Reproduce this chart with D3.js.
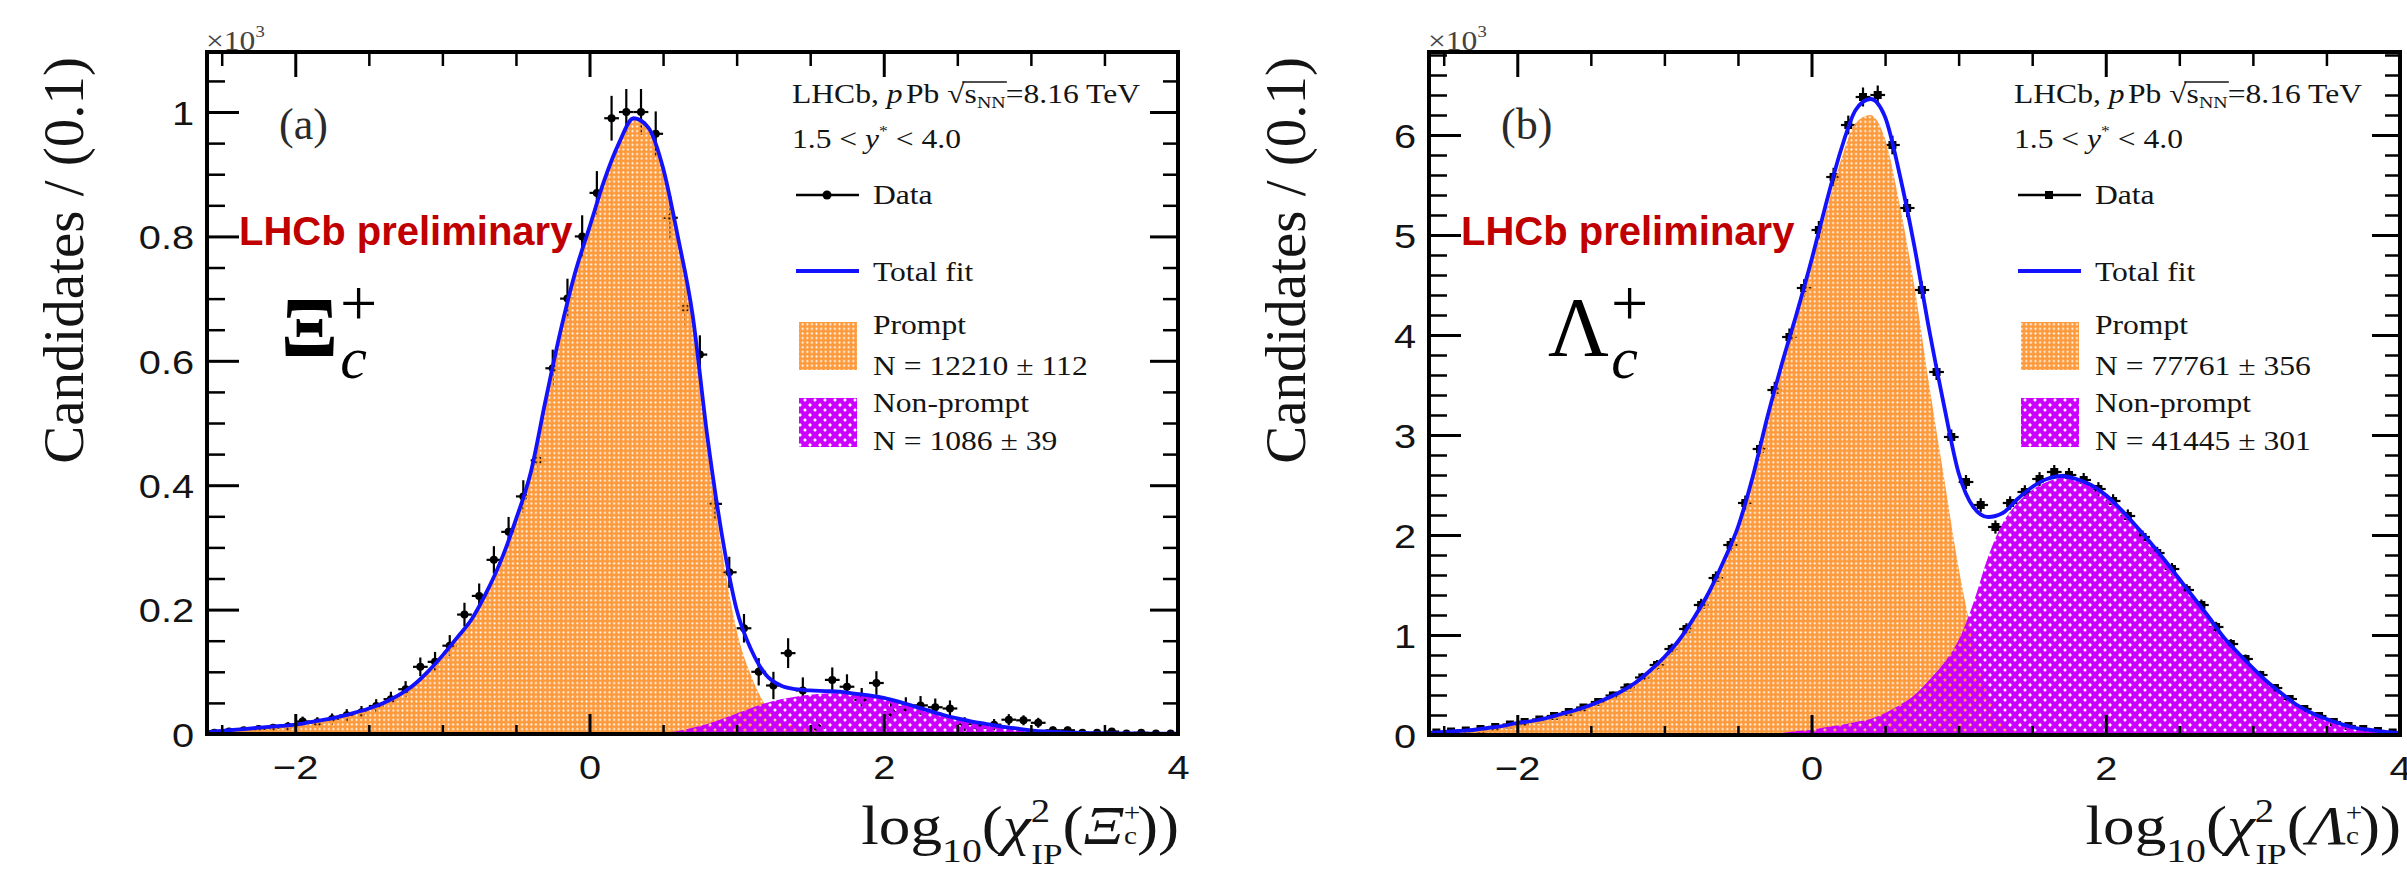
<!DOCTYPE html>
<html><head><meta charset="utf-8">
<script src="https://cdn.jsdelivr.net/npm/d3@7/dist/d3.min.js"></script>
<style>html,body{margin:0;padding:0;background:#fff;} svg{display:block}</style>
</head><body>
<svg id="chart" width="2407" height="874"></svg>
<script>
// ------------------ DATA (values in units of 10^3 candidates / 0.1) ------------------
const curveX = [-2.6,-2.5,-2.4,-2.3,-2.2,-2.1,-2.0,-1.9,-1.8,-1.7,-1.6,-1.5,-1.4,-1.3,-1.2,-1.1,-1.0,-0.9,-0.8,-0.7,-0.6,-0.5,-0.4,-0.3,-0.2,-0.1,0.0,0.1,0.2,0.3,0.4,0.5,0.6,0.7,0.8,0.9,1.0,1.1,1.2,1.3,1.4,1.5,1.6,1.7,1.8,1.9,2.0,2.1,2.2,2.3,2.4,2.5,2.6,2.7,2.8,2.9,3.0,3.1,3.2,3.3,3.4,3.5,3.6,3.7,3.8,3.9,4.0];
const binCenters = [-2.55,-2.45,-2.35,-2.25,-2.15,-2.05,-1.95,-1.85,-1.75,-1.65,-1.55,-1.45,-1.35,-1.25,-1.15,-1.05,-0.95,-0.85,-0.75,-0.65,-0.55,-0.45,-0.35,-0.25,-0.15,-0.05,0.05,0.15,0.25,0.35,0.45,0.55,0.65,0.75,0.85,0.95,1.05,1.15,1.25,1.35,1.45,1.55,1.65,1.75,1.85,1.95,2.05,2.15,2.25,2.35,2.45,2.55,2.65,2.75,2.85,2.95,3.05,3.15,3.25,3.35,3.45,3.55,3.65,3.75,3.85,3.95];

// (a) Xi_c+
const xiTotal = [0.003,0.005,0.007,0.009,0.011,0.013,0.015,0.019,0.023,0.028,0.034,0.041,0.050,0.062,0.078,0.100,0.126,0.155,0.185,0.228,0.280,0.345,0.420,0.535,0.645,0.740,0.815,0.890,0.950,0.990,0.975,0.910,0.800,0.675,0.480,0.320,0.200,0.135,0.095,0.078,0.072,0.070,0.069,0.068,0.065,0.062,0.058,0.052,0.045,0.038,0.031,0.025,0.020,0.016,0.012,0.009,0.006,0.004,0.003,0.002,0.0015,0.001,0.001,0.0008,0.0006,0.0005,0.0004];
const xiPrompt = [0.003,0.005,0.007,0.009,0.011,0.013,0.015,0.019,0.023,0.028,0.034,0.041,0.050,0.062,0.078,0.100,0.126,0.155,0.185,0.228,0.280,0.345,0.420,0.535,0.645,0.740,0.815,0.890,0.950,0.990,0.974,0.908,0.795,0.665,0.464,0.296,0.167,0.093,0.045,0.022,0.012,0.007,0.004,0.002,0.001,0.0005,0,0,0,0,0,0,0,0,0,0,0,0,0,0,0,0,0,0,0,0,0];
const xiNonPrompt = [0,0,0,0,0,0,0,0,0,0,0,0,0,0,0,0,0,0,0,0,0,0,0,0,0,0,0,0,0,0,0.001,0.002,0.005,0.010,0.016,0.024,0.033,0.042,0.050,0.056,0.060,0.063,0.065,0.066,0.064,0.061,0.057,0.052,0.045,0.038,0.031,0.025,0.020,0.016,0.012,0.009,0.006,0.004,0.003,0.002,0.0015,0.001,0.001,0.0008,0.0006,0.0005,0.0004];
const xiData = [0.002,0.004,0.006,0.008,0.010,0.012,0.020,0.019,0.024,0.030,0.035,0.045,0.056,0.072,0.108,0.116,0.142,0.192,0.222,0.280,0.325,0.382,0.440,0.588,0.700,0.800,0.870,0.990,1.000,1.000,0.965,0.830,0.685,0.610,0.370,0.260,0.170,0.100,0.078,0.130,0.070,0.010,0.087,0.076,0.055,0.082,0.035,0.043,0.046,0.043,0.041,0.016,0.010,0.015,0.023,0.022,0.018,0.006,0.006,0.002,0.002,0.004,0.001,0.002,0.001,0.001];
const xiErr = [0.004,0.005,0.005,0.006,0.006,0.007,0.008,0.008,0.009,0.010,0.010,0.011,0.012,0.013,0.015,0.016,0.017,0.019,0.020,0.022,0.024,0.026,0.028,0.030,0.032,0.034,0.035,0.036,0.037,0.037,0.036,0.034,0.032,0.031,0.027,0.025,0.023,0.022,0.022,0.024,0.021,0.018,0.020,0.020,0.019,0.019,0.016,0.016,0.015,0.014,0.013,0.011,0.010,0.009,0.009,0.008,0.008,0.006,0.006,0.004,0.004,0.004,0.003,0.003,0.002,0.002];

// (b) Lambda_c+
const lcTotal = [0.02,0.03,0.04,0.05,0.07,0.09,0.12,0.14,0.17,0.21,0.25,0.30,0.36,0.43,0.52,0.64,0.78,0.95,1.17,1.42,1.73,2.08,2.58,3.18,3.72,4.22,4.75,5.32,5.85,6.25,6.36,6.18,5.60,4.88,4.05,3.30,2.62,2.28,2.18,2.22,2.36,2.48,2.56,2.59,2.56,2.50,2.40,2.26,2.10,1.93,1.75,1.56,1.37,1.18,0.98,0.82,0.67,0.53,0.41,0.30,0.22,0.16,0.11,0.07,0.05,0.03,0.02];
const lcPrompt = [0.02,0.03,0.04,0.05,0.07,0.09,0.12,0.14,0.17,0.21,0.25,0.30,0.36,0.43,0.52,0.64,0.78,0.95,1.17,1.42,1.73,2.08,2.58,3.17,3.70,4.18,4.70,5.24,5.75,6.12,6.20,5.96,5.30,4.48,3.50,2.58,1.67,0.96,0.40,0.10,0.04,0.02,0.01,0.005,0,0,0,0,0,0,0,0,0,0,0,0,0,0,0,0,0,0,0,0,0,0,0];
const lcNonPrompt = [0,0,0,0,0,0,0,0,0,0,0,0,0,0,0,0,0,0,0,0,0,0,0,0.01,0.02,0.04,0.05,0.08,0.10,0.13,0.16,0.22,0.30,0.40,0.55,0.72,0.95,1.32,1.78,2.12,2.32,2.45,2.53,2.57,2.55,2.50,2.40,2.26,2.10,1.93,1.75,1.56,1.37,1.18,0.98,0.82,0.67,0.53,0.41,0.30,0.22,0.16,0.11,0.07,0.05,0.03,0.02];
const lcData = [0.025,0.035,0.045,0.06,0.08,0.105,0.13,0.155,0.19,0.23,0.275,0.33,0.395,0.475,0.575,0.70,0.86,1.06,1.30,1.57,1.90,2.32,2.86,3.45,3.98,4.47,5.05,5.58,6.10,6.38,6.40,5.90,5.27,4.45,3.63,2.98,2.53,2.30,2.08,2.32,2.43,2.56,2.63,2.60,2.55,2.46,2.34,2.19,1.98,1.82,1.66,1.45,1.30,1.08,0.91,0.76,0.60,0.47,0.36,0.26,0.19,0.13,0.09,0.06,0.04,0.025];
const lcErr = [0.012,0.014,0.016,0.018,0.02,0.022,0.024,0.026,0.028,0.03,0.033,0.036,0.039,0.042,0.046,0.05,0.054,0.058,0.062,0.066,0.07,0.074,0.078,0.082,0.085,0.088,0.09,0.092,0.094,0.095,0.095,0.093,0.09,0.086,0.08,0.075,0.07,0.068,0.066,0.067,0.068,0.069,0.07,0.07,0.07,0.069,0.068,0.066,0.064,0.062,0.06,0.058,0.055,0.052,0.049,0.045,0.042,0.038,0.034,0.03,0.026,0.022,0.019,0.016,0.013,0.011];

// ticks
const xMajor = [-2, 0, 2, 4];
const xTickLabels = ["\u22122", "0", "2", "4"];
const xMinor = [-2.5,-1.5,-1,-0.5,0.5,1,1.5,2.5,3,3.5];
const xiYMajor = [0, 0.2, 0.4, 0.6, 0.8, 1];
const xiYLabels = ["0", "0.2", "0.4", "0.6", "0.8", "1"];
const xiYMinor = [0.05,0.1,0.15,0.25,0.3,0.35,0.45,0.5,0.55,0.65,0.7,0.75,0.85,0.9,0.95,1.05];
const lcYMajor = [0, 1, 2, 3, 4, 5, 6];
const lcYLabels = ["0", "1", "2", "3", "4", "5", "6"];
const lcYMinor = [0.2,0.4,0.6,0.8,1.2,1.4,1.6,1.8,2.2,2.4,2.6,2.8,3.2,3.4,3.6,3.8,4.2,4.4,4.6,4.8,5.2,5.4,5.6,5.8,6.2,6.4,6.6,6.8];

// legend / text
const xiYields = ["N = 12210 \u00b1 112", "N = 1086 \u00b1 39"];
const lcYields = ["N = 77761 \u00b1 356", "N = 41445 \u00b1 301"];

// ------------------ DRAWING ------------------
const SERIF = "'Liberation Serif','Times New Roman',Times,serif";
const SANS = "'Liberation Sans',Arial,Helvetica,sans-serif";
const STRETCH = "scale(1.17,1)";
const ORANGE = "#fd9a3c", MAGENTA = "#cc00ff", BLUE = "#1212ff", INK = "#141414";

const svg = d3.select("#chart");
svg.append("rect").attr("width", 2407).attr("height", 874).attr("fill", "#fff");
const defs = svg.append("defs");
const pO = defs.append("pattern").attr("id", "fillPrompt").attr("patternUnits", "userSpaceOnUse")
  .attr("width", 4.6).attr("height", 4.6);
pO.append("path").attr("fill", ORANGE).attr("fill-rule", "evenodd")
  .attr("d", "M0,0H4.6V4.6H0Z M1.25,2.3a1.05,1.05 0 1,0 2.1,0a1.05,1.05 0 1,0 -2.1,0Z");
const pM = defs.append("pattern").attr("id", "fillNonPrompt").attr("patternUnits", "userSpaceOnUse")
  .attr("width", 10).attr("height", 10);
pM.append("path").attr("stroke", MAGENTA).attr("stroke-width", 4.4).attr("fill", "none")
  .attr("d", "M-2,-2L12,12M12,-2L-2,12");

const panels = [
  { key: "a", left: 207, right: 1178, top: 52, bottom: 734, yMax: 1.0965,
    yMajor: xiYMajor, yLabels: xiYLabels, yMinor: xiYMinor,
    total: xiTotal, prompt: xiPrompt, nonPrompt: xiNonPrompt, data: xiData, err: xiErr,
    tag: "(a)", baryon: "\u039e", baryonBold: true, yields: xiYields, square: false },
  { key: "b", left: 1429, right: 2400, top: 52, bottom: 735, yMax: 6.83,
    yMajor: lcYMajor, yLabels: lcYLabels, yMinor: lcYMinor,
    total: lcTotal, prompt: lcPrompt, nonPrompt: lcNonPrompt, data: lcData, err: lcErr,
    tag: "(b)", baryon: "\u039b", baryonBold: false, yields: lcYields, square: true }
];

function styleAxis(sel, w) {
  sel.select(".domain").remove();
  sel.selectAll("line").attr("stroke", "#000").attr("stroke-width", w);
}

panels.forEach(p => {
  const x = d3.scaleLinear().domain([-2.6, 4]).range([p.left, p.right]);
  const y = d3.scaleLinear().domain([0, p.yMax]).range([p.bottom, p.top]);
  const clipId = "clip" + p.key;
  defs.append("clipPath").attr("id", clipId).append("rect")
    .attr("x", p.left).attr("y", p.top).attr("width", p.right - p.left).attr("height", p.bottom - p.top);
  const g = svg.append("g").attr("clip-path", `url(#${clipId})`);

  // data points (drawn first; fills overlay them as in the original)
  const pts = d3.zip(binCenters, p.data, p.err);
  const dg = g.append("g").attr("stroke", "#000").attr("stroke-width", 2.2);
  dg.selectAll("line.ev").data(pts).join("line").attr("class", "ev")
    .attr("x1", d => x(d[0])).attr("x2", d => x(d[0]))
    .attr("y1", d => y(Math.max(0, d[1] - d[2]))).attr("y2", d => y(d[1] + d[2]));
  dg.selectAll("line.eh").data(pts).join("line").attr("class", "eh")
    .attr("x1", d => x(d[0] - 0.05)).attr("x2", d => x(d[0] + 0.05))
    .attr("y1", d => y(d[1])).attr("y2", d => y(d[1]));
  if (p.square) {
    dg.selectAll("rect.mk").data(pts).join("rect").attr("class", "mk").attr("stroke", "none").attr("fill", "#000")
      .attr("x", d => x(d[0]) - 4).attr("y", d => y(d[1]) - 4).attr("width", 8).attr("height", 8);
  } else {
    dg.selectAll("circle.mk").data(pts).join("circle").attr("class", "mk").attr("stroke", "none").attr("fill", "#000")
      .attr("cx", d => x(d[0])).attr("cy", d => y(d[1])).attr("r", 4);
  }

  const area = d3.area().curve(d3.curveMonotoneX).x(d => x(d[0])).y0(y(0)).y1(d => y(d[1]));
  g.append("path").datum(d3.zip(curveX, p.prompt)).attr("d", area).attr("fill", "url(#fillPrompt)");
  g.append("path").datum(d3.zip(curveX, p.nonPrompt)).attr("d", area).attr("fill", "url(#fillNonPrompt)");
  const line = d3.line().curve(d3.curveMonotoneX).x(d => x(d[0])).y(d => y(d[1]));
  g.append("path").datum(d3.zip(curveX, p.total)).attr("d", line)
    .attr("fill", "none").attr("stroke", BLUE).attr("stroke-width", 3.8);

  // axes
  const ax = svg.append("g").attr("font-family", SERIF);
  ax.append("g").attr("transform", `translate(0,${p.bottom})`)
    .call(d3.axisBottom(x).tickValues(xMajor).tickFormat((d, i) => xTickLabels[i]).tickSize(-20).tickSizeOuter(0).tickPadding(21))
    .call(s => styleAxis(s, 3))
    .call(s => s.selectAll("text").attr("font-size", 34).attr("fill", INK).attr("transform", STRETCH));
  ax.append("g").attr("transform", `translate(0,${p.bottom})`)
    .call(d3.axisBottom(x).tickValues(xMinor).tickFormat(() => "").tickSize(-9).tickSizeOuter(0))
    .call(s => styleAxis(s, 2.5));
  ax.append("g").attr("transform", `translate(0,${p.top})`)
    .call(d3.axisTop(x).tickValues(xMajor).tickFormat(() => "").tickSize(-25).tickSizeOuter(0))
    .call(s => styleAxis(s, 3));
  ax.append("g").attr("transform", `translate(0,${p.top})`)
    .call(d3.axisTop(x).tickValues(xMinor).tickFormat(() => "").tickSize(-14).tickSizeOuter(0))
    .call(s => styleAxis(s, 2.5));
  ax.append("g").attr("transform", `translate(${p.left},0)`)
    .call(d3.axisLeft(y).tickValues(p.yMajor).tickFormat((d, i) => p.yLabels[i]).tickSize(-32).tickSizeOuter(0).tickPadding(11))
    .call(s => styleAxis(s, 3))
    .call(s => s.selectAll("text").attr("font-size", 34).attr("fill", INK).attr("dy", "0.36em").attr("transform", STRETCH));
  ax.append("g").attr("transform", `translate(${p.left},0)`)
    .call(d3.axisLeft(y).tickValues(p.yMinor).tickFormat(() => "").tickSize(-18).tickSizeOuter(0))
    .call(s => styleAxis(s, 2.5));
  ax.append("g").attr("transform", `translate(${p.right},0)`)
    .call(d3.axisRight(y).tickValues(p.yMajor).tickFormat(() => "").tickSize(-28).tickSizeOuter(0))
    .call(s => styleAxis(s, 3));
  ax.append("g").attr("transform", `translate(${p.right},0)`)
    .call(d3.axisRight(y).tickValues(p.yMinor).tickFormat(() => "").tickSize(-15).tickSizeOuter(0))
    .call(s => styleAxis(s, 2.5));
  svg.append("rect").attr("x", p.left).attr("y", p.top).attr("width", p.right - p.left).attr("height", p.bottom - p.top)
    .attr("fill", "none").attr("stroke", "#000").attr("stroke-width", 4);

  // x10^3
  const mult = svg.append("text").attr("font-family", SERIF).attr("font-size", 27).attr("fill", "#444")
    .attr("transform", `translate(${p.left - 1},${p.top - 2}) ${STRETCH}`);
  mult.append("tspan").text("\u00d710");
  mult.append("tspan").attr("font-size", 16).attr("dy", -13).text("3");

  // y title
  svg.append("text").attr("font-family", SERIF).attr("font-size", 57).attr("fill", INK)
    .attr("text-anchor", "end").attr("transform", `translate(${p.left - 124},${p.top + 5}) rotate(-90)`)
    .text("Candidates / (0.1)");

  // x title
  const xt = svg.append("text").attr("font-family", SERIF).attr("font-size", 54).attr("fill", INK)
    .attr("text-anchor", "end").attr("transform", `translate(${p.right + 1},844) ${STRETCH}`);
  xt.append("tspan").text("log");
  xt.append("tspan").attr("font-size", 34).attr("dy", 18).text("10");
  xt.append("tspan").attr("dy", -18).text("(");
  xt.append("tspan").attr("font-style", "italic").text("\u03c7");
  xt.append("tspan").attr("font-size", 33).attr("dy", -22).text("2");
  xt.append("tspan").attr("font-size", 30).attr("dx", -16).attr("dy", 42).text("IP");
  xt.append("tspan").attr("dy", -20).text("(");
  xt.append("tspan").attr("font-style", "italic").text(p.baryon);
  xt.append("tspan").attr("font-size", 25).attr("dy", -23).text("+");
  xt.append("tspan").attr("font-size", 25).attr("dx", -14).attr("dy", 23).text("c");
  xt.append("tspan").text("))");

  // (a)/(b)
  svg.append("text").attr("font-family", SERIF).attr("font-size", 44).attr("fill", "#2a2a2a")
    .attr("x", p.left + 72).attr("y", 139).text(p.tag);

  // LHCb preliminary
  svg.append("text").attr("font-family", SANS).attr("font-weight", "bold").attr("font-size", 40).attr("fill", "#c00000")
    .attr("x", p.left + 32).attr("y", 245).text("LHCb preliminary");

  // particle label (single text element with super/subscripts)
  const bx = p.key === "a" ? p.left + 74 : p.left + 119;
  const pl = svg.append("text").attr("font-family", SERIF).attr("fill", "#000").attr("x", bx).attr("y", 356);
  pl.append("tspan").attr("font-size", 84).attr("font-weight", p.baryonBold ? "bold" : "normal").text(p.baryon);
  pl.append("tspan").attr("font-size", 66).attr("dx", 2).attr("dy", -31).text("+");
  pl.append("tspan").attr("font-size", 60).attr("font-style", "italic").attr("dx", -37).attr("dy", 53).text("c");

  // legend
  const R = p.right;
  const lg = svg.append("g").attr("font-family", SERIF).attr("font-size", 27).attr("fill", INK);
  const h1 = lg.append("text").attr("transform", `translate(${R - 386},103) ${STRETCH}`);
  h1.append("tspan").text("LHCb, ");
  h1.append("tspan").attr("font-style", "italic").text("p");
  h1.append("tspan").attr("dx", 3).text("Pb ");
  h1.append("tspan").text("\u221a");
  h1.append("tspan").text("s");
  h1.append("tspan").attr("font-size", 17).attr("dy", 5).text("NN");
  h1.append("tspan").attr("dy", -5).text("=8.16 TeV");
  const n1 = h1.node();
  const sx = n1.getStartPositionOfChar(11).x, ex = n1.getEndPositionOfChar(13).x;
  lg.append("line").attr("transform", `translate(${R - 386},103) ${STRETCH}`)
    .attr("x1", sx - 2).attr("x2", ex + 1).attr("y1", -21).attr("y2", -21).attr("stroke", INK).attr("stroke-width", 1.6);
  const h2 = lg.append("text").attr("transform", `translate(${R - 386},148) ${STRETCH}`);
  h2.append("tspan").text("1.5 < ");
  h2.append("tspan").attr("font-style", "italic").text("y");
  h2.append("tspan").attr("font-size", 15).attr("dy", -12).text("*");
  h2.append("tspan").attr("dy", 12).text(" < 4.0");

  lg.append("line").attr("x1", R - 382).attr("x2", R - 319).attr("y1", 195).attr("y2", 195)
    .attr("stroke", "#000").attr("stroke-width", 2.5);
  if (p.square) lg.append("rect").attr("x", R - 355).attr("y", 191).attr("width", 8).attr("height", 8).attr("fill", "#000");
  else lg.append("circle").attr("cx", R - 351).attr("cy", 195).attr("r", 4.5).attr("fill", "#000");
  lg.append("text").attr("transform", `translate(${R - 305},204) ${STRETCH}`).text("Data");

  lg.append("line").attr("x1", R - 382).attr("x2", R - 319).attr("y1", 271).attr("y2", 271)
    .attr("stroke", BLUE).attr("stroke-width", 4);
  lg.append("text").attr("transform", `translate(${R - 305},281) ${STRETCH}`).text("Total fit");

  lg.append("rect").attr("x", R - 379).attr("y", 322).attr("width", 58).attr("height", 48).attr("fill", "url(#fillPrompt)");
  lg.append("text").attr("transform", `translate(${R - 305},334) ${STRETCH}`).text("Prompt");
  lg.append("text").attr("transform", `translate(${R - 305},375) ${STRETCH}`).text(p.yields[0]);

  lg.append("rect").attr("x", R - 379).attr("y", 398).attr("width", 58).attr("height", 49).attr("fill", "url(#fillNonPrompt)");
  lg.append("text").attr("transform", `translate(${R - 305},412) ${STRETCH}`).text("Non-prompt");
  lg.append("text").attr("transform", `translate(${R - 305},450) ${STRETCH}`).text(p.yields[1]);
});
</script>
</body></html>
